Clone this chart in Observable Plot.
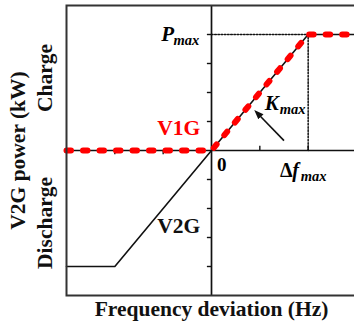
<!DOCTYPE html>
<html>
<head>
<meta charset="utf-8">
<script src="https://cdn.jsdelivr.net/npm/d3@7"></script>
<script src="https://cdn.jsdelivr.net/npm/@observablehq/plot@0.6"></script>
<style>
  html, body { margin: 0; padding: 0; background: #fff; overflow: hidden; }
  #chart svg { display: block; }
</style>
</head>
<body>
<div id="chart"></div>
<script>
// ---- data ----
const freqDomain = [-3, 3];
const powerDomain = [-5, 5];
const pMax = 4;
const dfMax = 2;
const v2gFreq = [-3, -2, 0, 2, 3];
const v2gPower = [-4, -4, 0, 4, 4];
const v1gFreq = [-3, 0, 2, 3];
const v1gPower = [0, 0, 4, 4];
const guideFreq = [0, dfMax, dfMax];
const guidePower = [pMax, pMax, 0];
const powerTicks = [-4, -3, -2, -1, 1, 2, 3, 4];
const freqTicksBelow = [-2, -1];
const freqTicksAbove = [1, 2];
const xTitle = "Frequency deviation (Hz)";
const yTitle = "V2G power (kW)";
const sideLabels = ["Charge", "Discharge"];
const sidePower = [2.5, -2.5];
const curveLabels = ["V1G", "V2G"];
const curveLabelFreq = [-0.68, -0.68];
const curveLabelPower = [0.52, -2.86];
const curveLabelColors = ["#ff0000", "#111111"];
const kLabelFreq = 1.1, kLabelPower = 1.41;
const kArrowFrom = [1.50, 0.34];
const kArrowTo = [0.93, 1.32];

const v2g = v2gFreq.map((x, i) => ({x, y: v2gPower[i]}));
const v1g = v1gFreq.map((x, i) => ({x, y: v1gPower[i]}));
const guide = guideFreq.map((x, i) => ({x, y: guidePower[i]}));
const side = sideLabels.map((t, i) => ({t, y: sidePower[i]}));
const curves = curveLabels.map((t, i) => ({t, x: curveLabelFreq[i], y: curveLabelPower[i], c: curveLabelColors[i]}));

const serif = "'Liberation Serif', 'Times New Roman', serif";

function solidArrow(color) {
  const m = d3.create("svg:marker")
    .attr("viewBox", "-6 -5 12 10")
    .attr("markerWidth", 10)
    .attr("markerHeight", 8)
    .attr("refX", 2)
    .attr("orient", "auto")
    .attr("markerUnits", "userSpaceOnUse")
    .attr("fill", color)
    .attr("stroke", "none");
  m.append("path").attr("d", "M-6,-4.5L6,0L-6,4.5Z");
  return m.node();
}

const plot = Plot.plot({
  width: 354,
  height: 327,
  marginLeft: 66,
  marginRight: -2,
  marginTop: 5,
  marginBottom: 32,
  x: {domain: freqDomain},
  y: {domain: powerDomain},
  axis: null,
  style: {fontFamily: serif, background: "#fff", overflow: "visible"},
  marks: [
    Plot.ruleX([0], {stroke: "#111", strokeWidth: 1.7}),
    Plot.ruleY([0], {stroke: "#111", strokeWidth: 1.7}),
    Plot.ruleY(powerTicks, {x1: -0.085, x2: 0, stroke: "#111", strokeWidth: 1.4}),
    Plot.ruleX(freqTicksBelow, {y1: 0, y2: -0.15, stroke: "#111", strokeWidth: 1.4}),
    Plot.ruleX(freqTicksAbove, {y1: 0, y2: 0.15, stroke: "#111", strokeWidth: 1.4}),
    Plot.line(guide, {x: "x", y: "y", stroke: "#111", strokeWidth: 1.5, strokeDasharray: "1.6,1.6"}),
    Plot.line(v2g, {x: "x", y: "y", stroke: "#111", strokeWidth: 1.6}),
    Plot.line(v1g, {x: "x", y: "y", stroke: "#ff0000", strokeWidth: 6, strokeDasharray: "4.5,12", strokeLinecap: "round"}),
    Plot.link([0], {x1: () => kArrowFrom[0], y1: () => kArrowFrom[1], x2: () => kArrowTo[0], y2: () => kArrowTo[1], stroke: "#111", strokeWidth: 1.6, markerEnd: solidArrow}),
    Plot.frame({stroke: "#333", strokeWidth: 2}),
    Plot.text(curves, {x: "x", y: "y", text: "t", fill: "c", fontSize: 21.5, fontWeight: "bold", lineAnchor: "bottom", textAnchor: "middle"}),
    Plot.text(["P"], {x: () => 0, y: () => pMax, dx: -37.5, dy: 6, fontSize: 21, fontWeight: "bold", fontStyle: "italic", textAnchor: "end", lineAnchor: "bottom"}),
    Plot.text(["max"], {x: () => 0, y: () => pMax, dx: -38, dy: 10, fontSize: 14.5, fontWeight: "bold", fontStyle: "italic", textAnchor: "start", lineAnchor: "bottom"}),
    Plot.text(["K"], {x: () => kLabelFreq, y: () => kLabelPower, fontSize: 21, fontWeight: "bold", fontStyle: "italic", textAnchor: "start", lineAnchor: "bottom"}),
    Plot.text(["max"], {x: () => kLabelFreq, y: () => kLabelPower, dx: 15, dy: 4, fontSize: 14.5, fontWeight: "bold", fontStyle: "italic", textAnchor: "start", lineAnchor: "bottom"}),
    Plot.text(["0"], {x: () => 0, y: () => 0, dx: 5.5, dy: 20, fontSize: 19, fontWeight: "bold", textAnchor: "start", lineAnchor: "bottom"}),
    Plot.text(["Δ"], {x: () => dfMax, y: () => 0, dx: -15.5, dy: 26, fontSize: 20, fontWeight: "bold", textAnchor: "end", lineAnchor: "bottom"}),
    Plot.text(["f"], {x: () => dfMax, y: () => 0, dx: -16, dy: 26, fontSize: 20, fontWeight: "bold", fontStyle: "italic", textAnchor: "start", lineAnchor: "bottom"}),
    Plot.text(["max"], {x: () => dfMax, y: () => 0, dx: -7.5, dy: 30, fontSize: 14.5, fontWeight: "bold", fontStyle: "italic", textAnchor: "start", lineAnchor: "bottom"}),
    Plot.text([yTitle], {frameAnchor: "left", dx: -48, rotate: -90, fontSize: 21.5, fontWeight: "bold", textAnchor: "middle", fill: "#111"}),
    Plot.text(side, {frameAnchor: "left", y: "y", text: "t", dx: -21, rotate: -90, fontSize: 21.5, fontWeight: "bold", textAnchor: "middle", fill: "#111"}),
    Plot.text([xTitle], {frameAnchor: "bottom", dy: 20, fontSize: 21.5, fontWeight: "bold", textAnchor: "middle", fill: "#111"})
  ]
});
document.getElementById("chart").appendChild(plot);
</script>
</body>
</html>
